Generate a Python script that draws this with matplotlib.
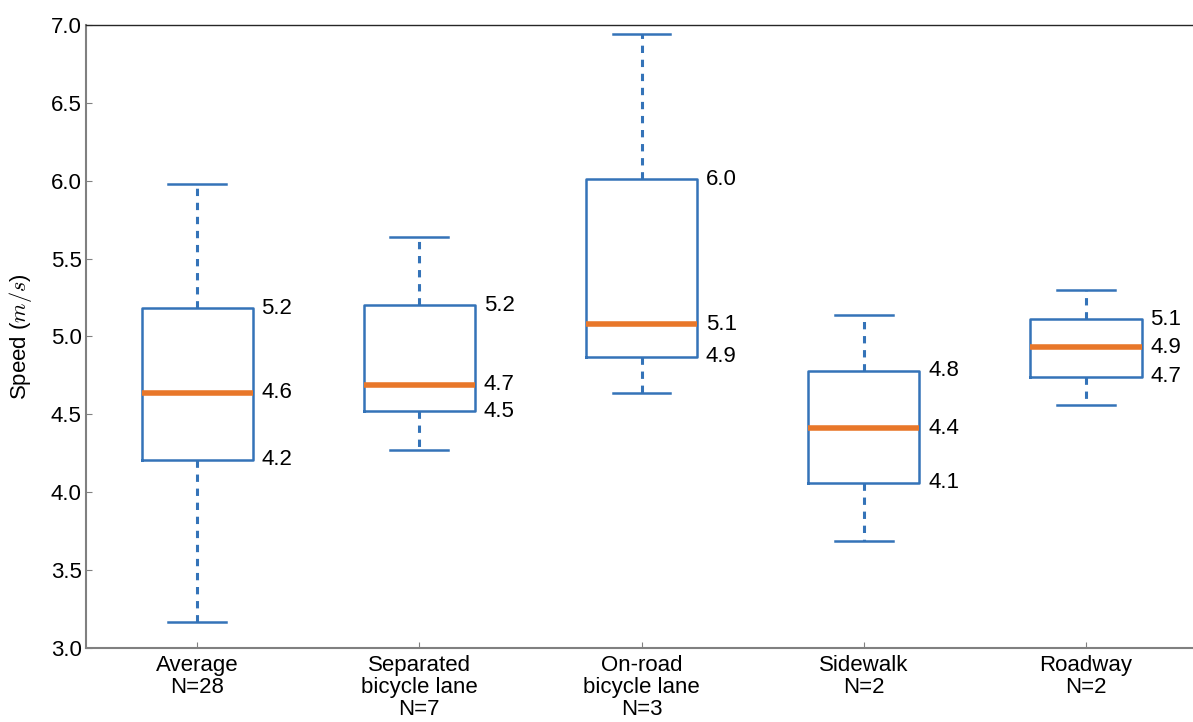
import numpy as np
import matplotlib
matplotlib.use('Agg')
import matplotlib.pyplot as plt

# categories and five-number summaries
labels = ['Average\nN=28', 'Separated\nbicycle lane\nN=7', 'On-road\nbicycle lane\nN=3',
          'Sidewalk\nN=2', 'Roadway\nN=2']
whislo = [3.17, 4.27, 4.64, 3.69, 4.56]
q1 = [4.21, 4.52, 4.87, 4.06, 4.74]
med = [4.64, 4.69, 5.08, 4.41, 4.93]
q3 = [5.18, 5.20, 6.01, 4.78, 5.11]
whishi = [5.98, 5.64, 6.94, 5.14, 5.30]

plt.rcParams['font.family'] = ['Liberation Sans', 'DejaVu Sans']
plt.rcParams['mathtext.fontset'] = 'cm'

blue = '#3473b8'
orange = '#e8772a'

fig = plt.figure(figsize=(11.93, 7.22), dpi=100)
ax = fig.add_axes([0.0721, 0.1025, 0.9313, 0.8629])

stats = []
for i in range(len(labels)):
	stats.append(dict(label=labels[i], whislo=whislo[i], q1=q1[i], med=med[i],
	                  q3=q3[i], whishi=whishi[i], fliers=[]))

pos = np.arange(1, len(labels) + 1)
ax.bxp(stats, positions=pos, widths=0.5, showfliers=False,
       boxprops=dict(color=blue, linewidth=1.8),
       whiskerprops=dict(color=blue, linewidth=2.2, linestyle=(0, (2.4, 2.2))),
       capprops=dict(color=blue, linewidth=1.8),
       medianprops=dict(color=orange, linewidth=4),
       capwidths=0.26)

# value labels to the right of every box
for i, p in enumerate(pos):
	for v in (q3[i], med[i], q1[i]):
		ax.text(p + 0.29, v, '%.1f' % v, ha='left', va='center', fontsize=16)

ax.set_xlim(0.5, 5.5)
ax.set_ylim(3.0, 7.0)
ax.set_yticks(np.arange(3.0, 7.01, 0.5))
ax.set_yticklabels(['%.1f' % t for t in np.arange(3.0, 7.01, 0.5)])
ax.set_ylabel('Speed ($m/s$)', fontsize=16, labelpad=12)
ax.tick_params(axis='both', direction='in', length=4, color='#808080', labelsize=16)
ax.tick_params(axis='x', pad=5)
ax.tick_params(axis='y', pad=3)
for t in ax.get_xticklabels():
	t.set_linespacing(1.05)

for s in ['left', 'bottom']:
	ax.spines[s].set_color('#808080')
	ax.spines[s].set_linewidth(1.5)
ax.spines['top'].set_color('#262626')
ax.spines['top'].set_linewidth(1.0)
ax.spines['right'].set_visible(False)

fig.savefig('out.png', dpi=100)
